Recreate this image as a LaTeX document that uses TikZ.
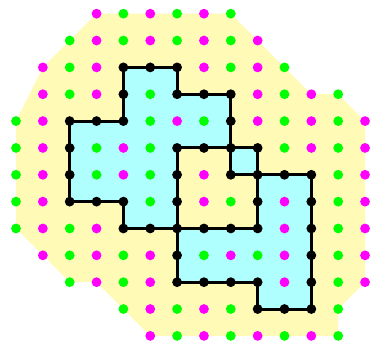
\documentclass[tikz,border=0pt]{standalone}
\definecolor{dotM}{RGB}{255,0,255}
\definecolor{dotG}{RGB}{0,255,0}
\definecolor{dotB}{RGB}{0,0,0}
\definecolor{hullyellow}{RGB}{255,251,182}
\definecolor{polycyan}{RGB}{176,255,255}
\tikzset{
  hullfill/.style={fill=hullyellow},
  polyfill/.style={fill=polycyan, even odd rule},
  polyline/.style={draw=black, line width=3pt, line join=miter},
}
\begin{document}
\begin{tikzpicture}[x=26.85pt, y=-26.85pt]
\useasboundingbox (-0.596,-0.51) rectangle (13.52,12.30);
% outer hull
\fill[hullfill] (3,0) -- (8,0) -- (11,3) -- (12,3) -- (13,4) -- (13,10) -- (12,11) -- (12,12) -- (5,12) -- (3,10) -- (2,10) -- (0,8) -- (0,4) -- (1,2) -- cycle;
% two polygons, even-odd fill
\fill[polyfill]
  (2,4) -- (4,4) -- (4,2) -- (6,2) -- (6,3) -- (8,3) -- (8,6) -- (9,6) -- (9,8) -- (4,8) -- (4,7) -- (2,7) -- cycle
  (6,5) -- (9,5) -- (9,6) -- (11,6) -- (11,11) -- (9,11) -- (9,10) -- (6,10) -- cycle;
\draw[polyline] (2,4) -- (4,4) -- (4,2) -- (6,2) -- (6,3) -- (8,3) -- (8,6) -- (9,6) -- (9,8) -- (4,8) -- (4,7) -- (2,7) -- cycle;
\draw[polyline] (6,5) -- (9,5) -- (9,6) -- (11,6) -- (11,11) -- (9,11) -- (9,10) -- (6,10) -- cycle;
% lattice points
\foreach \j/\s/\cols in {
  0/3/{M,G,M,G,M,G},
  1/2/{G,M,G,M,G,M,G,M},
  2/1/{M,G,M,B,B,B,M,G,M,G},
  3/1/{M,G,M,B,G,B,B,B,M,G,M,G},
  4/0/{G,M,B,B,B,G,M,G,B,M,G,M,G,M},
  5/0/{G,M,B,G,M,G,B,B,B,B,G,M,G,M},
  6/0/{G,M,B,G,M,G,B,M,B,B,B,B,G,M},
  7/0/{G,M,B,B,B,G,B,M,G,B,M,B,G,M},
  8/0/{G,M,G,M,B,B,B,B,B,B,M,B,G,M},
  9/1/{M,G,M,G,M,B,G,M,G,M,B,G,M},
  10/2/{G,M,G,M,B,B,B,B,M,B,G,M},
  11/4/{G,M,G,M,G,B,B,B,G},
  12/5/{M,G,M,G,M,G,M,G}}{
  \foreach \c [count=\k from \s] in \cols {
    \fill[dot\c] (\k,\j) circle (4.9pt);
  }
}
\end{tikzpicture}
\end{document}
